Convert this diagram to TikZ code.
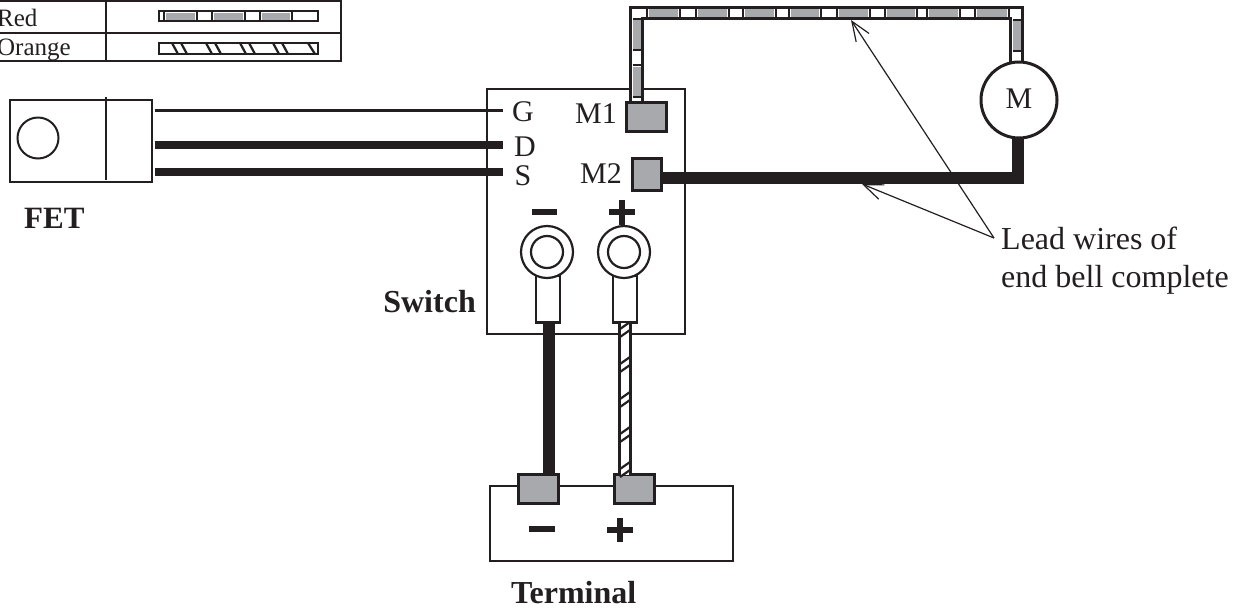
\documentclass[tikz,border=0pt]{standalone}
\usepackage{fontspec}
\setmainfont{Liberation Serif}
\usetikzlibrary{arrows.meta}
\definecolor{inkblack}{HTML}{231F20}
\definecolor{padgrey}{HTML}{A7A9AC}
\tikzset{
	box/.style={draw=inkblack, line width=2.2pt, inner sep=0, outer sep=0, fill=none},
	pad/.style={box, line width=3pt, fill=padgrey},
	hollow/.style={draw=inkblack, line width=3pt, fill=white, circle, inner sep=0, outer sep=0},
	label/.style={text=inkblack, inner sep=0, font=\fontsize{30}{32}\selectfont},
	boldlabel/.style={label, font=\fontsize{32}{34}\selectfont\bfseries},
	thinwire/.style={draw=inkblack, line width=2.2pt},
	heavywire/.style={draw=inkblack, line width=7.5pt},
	powerwire/.style={draw=inkblack, line width=12pt},
	stripewire/.style={draw=inkblack, line width=3pt, double=white, double distance=8.5pt},
	swatch/.style={draw=inkblack, line width=2.8pt, fill=white},
	stripe/.style={fill=padgrey, draw=none},
	hatch/.style={draw=inkblack, line width=2.2pt},
	sign/.style={draw=inkblack, line width=6pt},
	leader/.style={draw=inkblack, line width=1.2pt, -{Straight Barb[length=19.5pt, width=15.4pt, line width=1.2pt]}}
}

\begin{document}
\begin{tikzpicture}[x=1pt, y=-1pt]
        \useasboundingbox (0,0) rectangle (1247,614);

        % Colour table
        \draw[thinwire] (-5,1) -- (341,1) -- (341,61) -- (-5,61);
        \draw[thinwire] (-5,33) -- (341,33);
        \draw[thinwire] (106,0) -- (106,61);
        \node[label, font=\fontsize{25}{27}\selectfont, anchor=base west] (red) at (-3,26) {Red};
        \node[label, font=\fontsize{25}{27}\selectfont, anchor=base west] (orange) at (-3,55) {Orange};
        \draw[swatch] (159,11) rectangle (318,21);
        \foreach \x/\xend in {166/195,214/243,262/290}
            \fill[stripe] (\x,13) rectangle (\xend,20);
        \foreach \x/\xend in {166/195,214/243,262/290}
            \draw[hatch, line width=1.8pt] (\x-2,11) -- (\x-2,21) (\xend+2,11) -- (\xend+2,21);
        \draw[swatch] (159,43) rectangle (318,54);
        \foreach \x in {172,206,240,273}
            \draw[hatch] (\x,43) -- (\x+6,54) (\x+9,43) -- (\x+15,54);
        \draw[hatch] (308,43) -- (315,54);

        % FET
        \node[box, minimum width=142pt, minimum height=82pt] (fet) at (81,141) {};
        \draw[thinwire] (106,97) -- (106,180);
        \node[hollow, line width=2pt, minimum size=41pt] (hole) at (38,138) {};
        \node[boldlabel, font=\fontsize{31}{33}\selectfont\bfseries, anchor=base west] (fetlabel) at (24,228) {FET};

        % Switch
        \node[box, minimum width=198pt, minimum height=245pt] (switch) at (586,211.5) {};
        \node[boldlabel, anchor=base east] (switchlabel) at (476,312) {Switch};
        \node[label, anchor=base] (pinG) at (523,121) {G};
        \node[label, anchor=base] (pinD) at (525,156) {D};
        \node[label, anchor=base] (pinS) at (523,185) {S};
        \node[label, anchor=base east] (labelMa) at (617,123) {M1};
        \node[label, anchor=base east] (labelMb) at (622,183) {M2};

        % FET wires
        \coordinate (endG) at (503,110.5);
        \coordinate (endD) at (503,145);
        \coordinate (endS) at (503,172);
        \draw[thinwire] ([xshift=2.5pt]fet.east |- endG) -- (endG);
        \draw[heavywire] ([xshift=2.5pt]fet.east |- endD) -- (endD);
        \draw[heavywire] ([xshift=2.5pt]fet.east |- endS) -- (endS);

        % Red lead
        \coordinate (leadstart) at (636.5,103);
        \coordinate (leadend) at (1016.5,65);
        \draw[stripewire] (leadstart) -- (636.5,13) -- (1016.5,13) -- (leadend);
        \foreach \xa/\xb in {649/678,698/727,745/774,791/819,839/868,887/915,929/958,977/1007}
            \fill[stripe] (\xa,9) rectangle (\xb,17);
        \draw[hatch, line width=1.6pt] foreach \x in {647,680,696,729,743,776,789,821,837,870,885,917,927,960,975,1009} {(\x,9) -- (\x,17)};
        \foreach \ya/\yb in {20/49,67/96}
            \fill[stripe] (632.5,\ya) rectangle (640.5,\yb);
        \draw[hatch, line width=1.6pt] foreach \y in {19,50,65,97} {(632.5,\y) -- (640.5,\y)};
        \fill[stripe] (1012.5,21) rectangle (1020.5,50);
        \draw[hatch, line width=1.6pt] foreach \y in {20,51} {(1012.5,\y) -- (1020.5,\y)};

        % Motor
        \node[hollow, minimum size=76pt] (motor) at (1019,100) {};
        \node[label, anchor=base] (motorlabel) at (1019,108) {M};

        % Black lead
        \node[pad, minimum width=40pt, minimum height=29pt] (padMa) at (646.5,117) {};
        \node[pad, minimum width=29pt, minimum height=32pt] (padMb) at (647,174.5) {};
        \draw[powerwire] (padMb.east |- 0,177.5) -- (1018,177.5) -- (motor.south -| 1018,0);

        % Lugs
        \node[box, fill=white, minimum width=24pt, minimum height=47pt] (sleeveminus) at (548,299) {};
        \node[box, fill=white, minimum width=24pt, minimum height=47pt] (sleeveplus) at (625,299) {};
        \node[hollow, line width=2.2pt, minimum size=52pt] (lugminus) at (547,252) {};
        \node[hollow, line width=2.2pt, minimum size=52pt] (lugplus) at (624,252) {};
        \node[hollow, line width=2.2pt, minimum size=32pt] (holeminus) at (547,252) {};
        \node[hollow, line width=2.2pt, minimum size=32pt] (holeplus) at (624,252) {};
        \draw[sign] (532,212) -- (557,212);
        \draw[sign] (609,212) -- (635,212) (622,200) -- (622,225);

        % Terminal
        \node[box, minimum width=243pt, minimum height=75pt] (terminal) at (611.5,523.5) {};
        \node[pad, minimum width=40pt, minimum height=29pt] (padminus) at (538.5,489) {};
        \node[pad, minimum width=40pt, minimum height=29pt] (padplus) at (634.5,489) {};
        \draw[powerwire] ([xshift=1pt]sleeveminus.south) -- ([xshift=1pt]sleeveminus.south |- padminus.north);
        \draw[stripewire] (sleeveplus.south) -- (sleeveplus.south |- padplus.north);
        \foreach \y in {322,357,392,427,462}
            \draw[hatch] (620,\y+7) -- (630,\y) (620,\y+15) -- (630,\y+8);
        \draw[sign] (529,529) -- (555,529);
        \draw[sign] (607,530) -- (633,530) (620,518) -- (620,542);
        \node[boldlabel, anchor=base west] (terminallabel) at (511,603) {Terminal};

        % Leader lines
        \node[label, font=\fontsize{32}{34}\selectfont, anchor=base west] (leadlabel) at (1001,249) {Lead wires of};
        \node[label, font=\fontsize{32}{34}\selectfont, anchor=base west] (leadlabelb) at (1001,287) {end bell complete};
        \coordinate (tipred) at (851,20);
        \coordinate (tipblack) at (862,184);
        \coordinate (leadfork) at (994,238);
        \draw[leader] (leadfork) -- (tipred);
        \draw[leader] (leadfork) -- (tipblack);
\end{tikzpicture}
\end{document}
